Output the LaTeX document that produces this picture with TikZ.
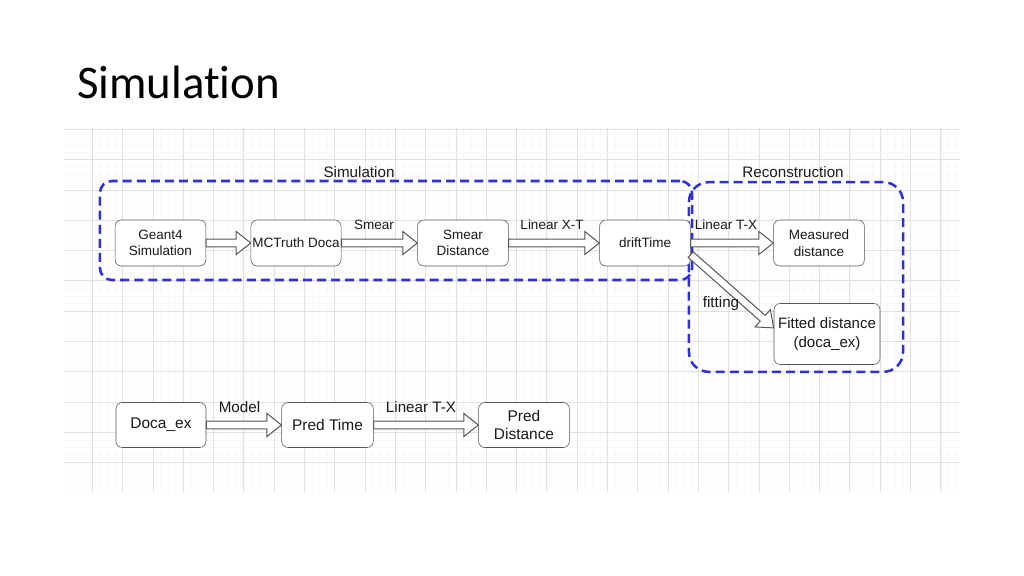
\documentclass[tikz,border=0pt]{standalone}
\usepackage{fontspec}
\setmainfont{Liberation Sans}
\newfontfamily\titlefont[Ligatures=NoCommon]{Carlito}
\usetikzlibrary{positioning, calc}
\definecolor{groupblue}{RGB}{48,48,212}
\definecolor{boxline}{RGB}{85,85,85}
\definecolor{inktext}{RGB}{26,26,26}
\tikzset{
        x=0.025cm, y=-0.025cm, % one unit is one pixel of the slide
        stage/.style={draw=boxline, rounded corners=4.5pt, fill=white, text=inktext,
                      minimum width=2.27cm, minimum height=1.15cm, align=center,
                      inner sep=1pt, font=\fontsize{9.6}{11.7}\selectfont}, % boxes of the chain
        bigstage/.style={stage, font=\fontsize{11}{12.3}\selectfont, minimum height=1.125cm},
        group/.style={draw=groupblue, line width=1.8pt, dash pattern=on 6.4pt off 3.6pt}, % dashed frames
        grouplabel/.style={text=inktext, font=\fontsize{10.8}{13}\selectfont},
        edgelabel/.style={text=inktext, font=\fontsize{9.6}{11.5}\selectfont},
        bigedgelabel/.style={edgelabel, font=\fontsize{10.8}{13}\selectfont},
        hollow/.style={draw=boxline, fill=white, line width=0.7pt, line join=miter},
        minorgrid/.style={draw=black!2.5, line width=0.3pt},
        majorgrid/.style={draw=black!12, line width=0.5pt},
    }
% wide outlined arrow between two points
\newcommand{\blockarrow}[2]{%
  \draw[hollow] let \p1=(#1), \p2=(#2),
      \n1={veclen(\x2-\x1,\y2-\y1)}, \n2={atan2(\y2-\y1,\x2-\x1)} in
    [shift={(\p1)}, rotate=\n2]
    (0pt,2.7pt) -- (\n1-10.3pt,2.7pt) -- (\n1-10.3pt,8.2pt) -- (\n1,0pt)
    -- (\n1-10.3pt,-8.2pt) -- (\n1-10.3pt,-2.7pt) -- (0pt,-2.7pt) -- cycle;}

\begin{document}
\begin{tikzpicture}
    \useasboundingbox (0,0) rectangle (1024,576);

    % background grid
    \begin{scope}
        \clip (64,128) rectangle (960,492);
        \foreach \i in {-4,...,120} \draw[minorgrid] ({92.3+7.575*\i},128) -- ++(0,364);
        \foreach \i in {-4,...,50} \draw[minorgrid] (64,{129.3+7.575*\i}) -- ++(896,0);
        \foreach \i in {-1,...,30} \draw[majorgrid] ({92.3+30.3*\i},128) -- ++(0,364);
        \foreach \i in {-1,...,12} \draw[majorgrid] (64,{129.3+30.3*\i}) -- ++(896,0);
    \end{scope}

    \node[anchor=base west, inner sep=0pt] (title) at (77,99)
        {\titlefont\fontsize{33.3}{40}\selectfont Simulation};

    % dashed frames
    \node[group, rounded corners=8.5pt, minimum width=14.8cm, minimum height=2.475cm] (simframe) at (396,230.5) {};
    \node[group, rounded corners=14pt, minimum width=5.35cm, minimum height=4.74cm] (recframe) at (796,277) {};
    \node[grouplabel] (simlabel) at (359,172) {Simulation};
    \node[grouplabel] (reclabel) at (793,172) {Reconstruction};

    % simulation chain
    \node[stage] (geant) at (160.5,243) {Geant4\\Simulation};
    \node[stage, minimum width=2.25cm] (truth) at (296,243) {MCTruth Doca};
    \node[stage] (smear) at (463,243) {Smear\\Distance};
    \node[stage, minimum width=2.27cm] (drift) at (645,243) {driftTime};
    \node[stage] (measured) at (819,243) {Measured\\distance};
    \node[stage, minimum width=2.65cm, minimum height=1.525cm,
          font=\fontsize{10.7}{13.5}\selectfont] (fitted) at (827,334) {Fitted distance\\(doca\_ex)};

    \blockarrow{geant.east}{truth.west}
    \blockarrow{truth.east}{smear.west}
    \blockarrow{smear.east}{drift.west}
    \blockarrow{drift.east}{measured.west}
    \coordinate (fitstart) at ($(drift.east)!0.5!(drift.south east)$);
    \coordinate (fitend) at ($(fitted.west)+(0,-6)$);
    \blockarrow{fitstart}{fitend}

    \node[edgelabel] (smearlabel) at (374,225) {Smear};
    \node[edgelabel] (xtlabel) at (552,225) {Linear X-T};
    \node[edgelabel] (txlabel) at (726,225) {Linear T-X};
    \node[bigedgelabel] (fitlabel) at (721,304) {fitting};

    % prediction chain
    \node[bigstage, minimum width=2.25cm] (docaex) at (161,425) {Doca\_ex};
    \node[bigstage, minimum width=2.29cm] (predtime) at (327.5,425) {Pred Time};
    \node[bigstage] (preddist) at (524,425) {Pred\\Distance};

    \blockarrow{docaex.east}{predtime.west}
    \blockarrow{predtime.east}{preddist.west}

    \node[bigedgelabel] (modellabel) at (239.5,407) {Model};
    \node[bigedgelabel] (predtxlabel) at (421,407) {Linear T-X};
\end{tikzpicture}
\end{document}
